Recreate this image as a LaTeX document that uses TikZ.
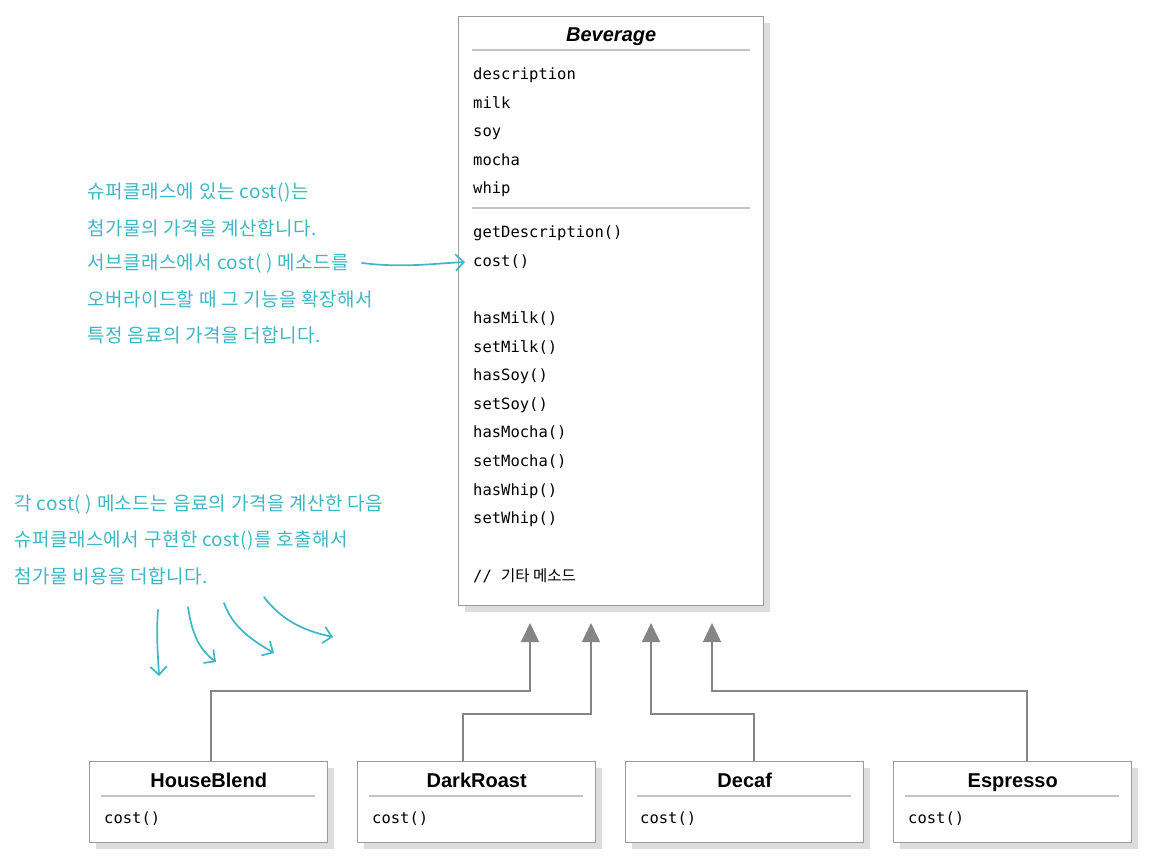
\documentclass[tikz,border=0pt]{standalone}
\usepackage{fontspec}
\setmonofont{DejaVu Sans Mono}
\newfontfamily\headfont{Liberation Sans}
\newfontfamily\cjk{Noto Sans CJK KR}
\newfontfamily\cjknote[LetterSpace=2.5]{Noto Sans CJK KR}
\usepackage{tikz}
\usetikzlibrary{arrows.meta, positioning, shadows, calc}
\definecolor{noteteal}{HTML}{3DB7C4}
\definecolor{boxgray}{HTML}{9A9A9A}
\definecolor{sepgray}{HTML}{C4C4C4}
\definecolor{shadowgray}{HTML}{DDDDDD}
\definecolor{linegray}{HTML}{858585}

\begin{document}
\begin{tikzpicture}[
  x=1pt, y=-1pt,
  classbox/.style={rectangle, draw=boxgray, line width=1.4pt, fill=white,
    drop shadow={shadow xshift=6pt, shadow yshift=-6pt,
      fill=shadowgray, opacity=1},
    inner sep=0pt, anchor=north west},
  classname/.style={font=\headfont\fontsize{20}{24}\selectfont\bfseries,
    anchor=base, inner sep=0pt},
  member/.style={font=\ttfamily\fontsize{15.5}{18}\selectfont,
    anchor=base west, inner sep=0pt},
  note/.style={font=\cjknote\fontsize{19}{22}\selectfont, text=noteteal,
    anchor=west, inner sep=0pt},
  sep/.style={draw=sepgray, line width=1.1pt},
  inherit/.style={draw=linegray, line width=1.6pt,
    -{Triangle[width=18pt, length=19pt]}},
  hand/.style={draw=noteteal, line width=1.7pt, line cap=round,
    -{Straight Barb[length=8pt, width=16pt, line cap=round]}}
]
  \useasboundingbox (0,0) rectangle (1156,866);

  % superclass
  \node[classbox, minimum width=305, minimum height=589] (bev) at (458,16) {};
  \node[classname, font=\headfont\fontsize{20}{24}\selectfont\bfseries\itshape]
    (bevname) at ($(bev.north)+(0,26)$) {Beverage};
  \draw[sep] ($(bev.north west)+(14,34)$) -- ($(bev.north east)+(-14,34)$);
  \foreach \txt [count=\i] in {description, milk, soy, mocha, whip}
    \node[member] (attr\i) at (473, {79.5+(\i-1)*28.6}) {\txt};
  \draw[sep] ($(bev.north west)+(14,192)$) -- ($(bev.north east)+(-14,192)$);
  \node[member] (bevdesc) at (473,237.5) {getDescription()};
  \node[member] (bevcost) at (473,266.5) {cost()};
  \foreach \txt [count=\i] in {hasMilk(), setMilk(), hasSoy(), setSoy(),
      hasMocha(), setMocha(), hasWhip(), setWhip()}
    \node[member] (meth\i) at (473, {323.5+(\i-1)*28.6}) {\txt};
  \node[member] (bevother) at (473,581.5) {// {\cjk 기타 메소드}};

  % subclasses
  \foreach \name/\label/\xl in {hb/HouseBlend/89, dr/DarkRoast/357,
      dc/Decaf/625, es/Espresso/893} {
    \node[classbox, minimum width=238, minimum height=81] (\name) at (\xl,761) {};
    \node[classname] (\name-name) at ($(\name.north)+(0,26)$) {\label};
    \draw[sep] ($(\name.north west)+(12,35)$) -- ($(\name.north east)+(-13,35)$);
    \node[member] (\name-cost) at ($(\name.north west)+(15,62)$) {cost()};
  }

  % inheritance
  \coordinate (t1) at (530,623);
  \coordinate (t2) at (591,623);
  \coordinate (t3) at (651,623);
  \coordinate (t4) at (712,623);
  \draw[inherit] ($(hb.north west)+(122,0)$) -- ++(0,-70) -| (t1);
  \draw[inherit] ($(dr.north west)+(106,0)$) -- ++(0,-47) -| (t2);
  \draw[inherit] ($(dc.north west)+(129,0)$) -- ++(0,-47) -| (t3);
  \draw[inherit] ($(es.north west)+(134,0)$) -- ++(0,-70) -| (t4);

  % notes
  \foreach \txt [count=\i] in {슈퍼클래스에 있는 cost()는,
      첨가물의 가격을 계산합니다.,
      서브클래스에서 cost( ) 메소드를,
      오버라이드할 때 그 기능을 확장해서,
      특정 음료의 가격을 더합니다.}
    \node[note] (supnote\i) at (87, {193+(\i-1)*35.5}) {\txt};
  \foreach \txt [count=\i] in {각 cost( ) 메소드는 음료의 가격을 계산한 다음,
      슈퍼클래스에서 구현한 cost()를 호출해서,
      첨가물 비용을 더합니다.}
    \node[note] (subnote\i) at (14, {505+(\i-1)*35.5}) {\txt};

  \coordinate (costtail) at (362,263);
  \draw[hand, shorten >=8pt] (costtail)
    .. controls +(40,5) and +(-40,2) .. (bevcost.west);

  \coordinate (curl1a) at (158,610);  \coordinate (curl1b) at (159,676);
  \coordinate (curl2a) at (188,607);  \coordinate (curl2b) at (216,662);
  \coordinate (curl3a) at (224,603);  \coordinate (curl3b) at (274,653);
  \coordinate (curl4a) at (264,597);  \coordinate (curl4b) at (333,637);
  \draw[hand] (curl1a) .. controls (156,635) and (158,655) .. (curl1b);
  \draw[hand] (curl2a) .. controls (192,635) and (200,650) .. (curl2b);
  \draw[hand] (curl3a) .. controls (232,625) and (248,638) .. (curl3b);
  \draw[hand] (curl4a) .. controls (280,618) and (300,630) .. (curl4b);
\end{tikzpicture}
\end{document}
